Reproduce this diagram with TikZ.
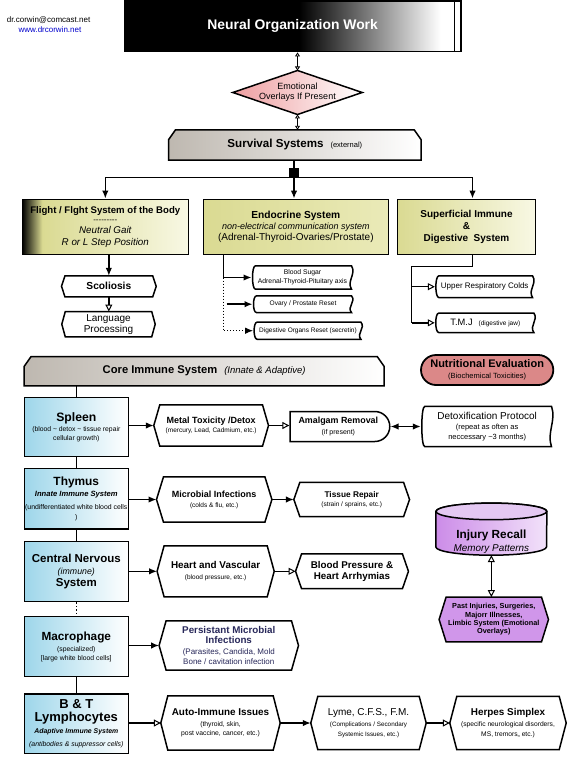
\documentclass[tikz,border=0pt]{standalone}
\usepackage{fontspec}
\setmainfont{Liberation Sans}
\usetikzlibrary{shapes.misc, arrows.meta, calc, backgrounds, positioning}

\definecolor{boxgrey}{RGB}{190,184,176}
\definecolor{boxyellow}{RGB}{218,218,146}
\definecolor{endoright}{RGB}{234,234,184}
\definecolor{paleyellow}{RGB}{248,248,228}
\definecolor{boxblue}{RGB}{158,214,234}
\definecolor{boxpink}{RGB}{238,158,160}
\definecolor{nutripink}{RGB}{219,136,136}
\definecolor{boxpurple}{RGB}{204,140,232}
\definecolor{lightpurple}{RGB}{242,226,250}
\definecolor{lidpurple}{RGB}{228,200,242}
\definecolor{hexpurple}{RGB}{208,150,234}
\definecolor{linkblue}{RGB}{0,0,204}
\definecolor{navytext}{RGB}{40,40,90}

\pgfdeclarehorizontalshading{titleshade}{100bp}{color(0bp)=(black); color(51bp)=(black); color(72bp)=(white); color(100bp)=(white)}
\pgfdeclarehorizontalshading{flightshade}{100bp}{color(0bp)=(black); color(25bp)=(black); color(31bp)=(boxyellow); color(75bp)=(paleyellow); color(100bp)=(paleyellow)}

\newcommand{\txtsize}[2]{\fontsize{#1}{#2}\selectfont}
\newcommand{\boldln}[2]{{\fontsize{#1}{#1}\selectfont\bfseries #2}}
\newcommand{\plainln}[2]{{\fontsize{#1}{#1}\selectfont #2}}
\newcommand{\italln}[2]{{\fontsize{#1}{#1}\selectfont\itshape #2}}
\newcommand{\bitln}[2]{{\fontsize{#1}{#1}\selectfont\bfseries\itshape #2}}

\tikzset{
  boxline/.style={draw=black, line width=1.5pt},
  slot/.style={inner sep=0pt, align=center},
  organbox/.style={boxline, left color=boxblue, right color=white, minimum width=104pt, inner sep=0pt, align=center},
  yellowbox/.style={boxline, minimum height=55pt, inner sep=0pt, align=center},
  link/.style={line width=1.5pt},
  fillarrow/.style={line width=1.5pt, -{Latex[length=8pt,width=6.5pt]}},
  openarrow/.style={line width=1.5pt, -{Triangle[fill=white,length=7pt,width=7pt,line width=1pt]}},
  bothfill/.style={line width=1.5pt, {Latex[length=8pt,width=6.5pt]}-{Latex[length=8pt,width=6.5pt]}},
  bothopen/.style={line width=1.5pt, {Triangle[fill=white,length=7pt,width=7pt,line width=1pt]}-{Triangle[fill=white,length=7pt,width=7pt,line width=1pt]}},
  smallends/.style={line width=1.5pt, {Triangle[open,length=4pt,width=5pt,line width=0.8pt]}-{Triangle[open,length=4pt,width=5pt,line width=0.8pt]}}
}

\begin{document}
\begin{tikzpicture}[x=1pt, y=-1pt]
  \useasboundingbox (0,0) rectangle (569,757);

  % Header
  \node[font=\txtsize{8}{9}] (email) at (48.6,20) {dr.corwin@comcast.net};
  \node[font=\txtsize{8}{9}, text=linkblue] (web) at (50,29.3) {www.drcorwin.net};
  \node[boxline, shading=titleshade, text=white, font=\txtsize{13.9}{16}\bfseries, minimum width=336.3pt, minimum height=50.7pt, inner sep=0pt] (title) at (292.65,26.35) {Neural Organization Work};
  \draw[line width=1pt] ([xshift=-7pt]title.north east) -- ([xshift=-7pt]title.south east);
  \node[slot, minimum width=129pt, minimum height=43.6pt, font=\txtsize{9}{10}] (emotion) at (297.5,92.5) {Emotional\\Overlays If Present};

  % Survival systems
  \node[slot, minimum width=252.3pt, minimum height=30pt] (survival) at (294.85,145) {\boldln{11.6}{Survival Systems}\hspace{7pt}\plainln{7.5}{(external)}};
  \node[fill=black, minimum size=9.5pt, inner sep=0pt] (junction) at (294,172.5) {};

  \node[yellowbox, shading=flightshade, minimum width=166pt, font=\txtsize{9.6}{10.7}] (flight) at (105.3,226.8)
    {\boldln{9.6}{Flight / Flght System of the Body}\\[-1.4pt] \plainln{8}{-{}-{}-{}-{}-{}-{}-{}-{}-}\\ \italln{9.8}{Neutral Gait}\\[1.3pt] \italln{9.8}{R or L Step Position}};
  \node[yellowbox, left color=boxyellow, right color=endoright, minimum width=185pt, font=\txtsize{9}{10.8}] (endocrine) at (295.8,226.8)
    {\boldln{10.2}{Endocrine System}\\ \italln{9}{non-electrical communication system}\\ \plainln{10}{(Adrenal-Thyroid-Ovaries/Prostate)}};
  \node[yellowbox, left color=boxyellow, right color=paleyellow, minimum width=138.4pt, font=\txtsize{10}{11.7}] (superficial) at (466.5,226.8)
    {\boldln{10}{Superficial Immune}\\ \boldln{10}{\&}\\ \boldln{10}{Digestive~ System}};

  \node[slot, minimum width=94.3pt, minimum height=20.7pt] (scoliosis) at (108.85,286.35) {\boldln{10.2}{Scoliosis}};
  \node[slot, minimum width=93pt, minimum height=25pt, font=\txtsize{10}{11}] (language) at (108.5,324.2) {Language\\Processing};

  \node[slot, minimum width=101.6pt, minimum height=23pt, font=\txtsize{6.8}{9}] (bloodsugar) at (302.5,277.5) {Blood Sugar\\Adrenal-Thyroid-Pituitary axis};
  \node[slot, minimum width=100.6pt, minimum height=16.3pt, font=\txtsize{6.6}{8}] (ovary) at (303,304.2) {Ovary / Prostate Reset};
  \node[slot, minimum width=109.4pt, minimum height=16.7pt, font=\txtsize{6.5}{8}] (digestive) at (308,330.7) {Digestive Organs Reset (secretin)};
  \node[slot, minimum width=99.3pt, minimum height=21.3pt, font=\txtsize{8}{9}] (upper) at (484.7,286.7) {Upper Respiratory Colds};
  \node[slot, minimum width=100.7pt, minimum height=19pt] (tmj) at (485.3,322.8) {\plainln{9.3}{T.M.J}\hspace{6pt}\plainln{6.5}{(digestive jaw)}};

  % Core immune system
  \node[slot, minimum width=359.7pt, minimum height=29pt] (core) at (204.15,371.2) {\boldln{11.2}{Core Immune System}\hspace{7pt}\italln{9.5}{(Innate \& Adaptive)}};
  \node[rounded rectangle, draw, line width=1.8pt, fill=nutripink, minimum width=132.3pt, minimum height=30pt, inner sep=0pt, align=center, font=\txtsize{7.5}{10.5}] (nutrition) at (487.15,370)
    {\boldln{11}{Nutritional Evaluation}\\ \plainln{7.5}{(Biochemical Toxicities)}};

  \node[organbox, minimum height=59.4pt, font=\txtsize{6.8}{8.7}] (spleen) at (76.3,427)
    {\boldln{12.2}{Spleen}\\[2pt] \plainln{6.8}{(blood \textasciitilde{} detox \textasciitilde{} tissue repair}\\ \plainln{6.8}{cellular growth)}};
  \node[organbox, minimum height=60.7pt, font=\txtsize{6.9}{10.5}] (thymus) at (76.3,498.65)
    {\boldln{11.9}{Thymus}\\[1pt] \bitln{7.6}{Innate Immune System}\\[2pt] \plainln{6.9}{(undifferentiated white blood cells}\\ \plainln{6.9}{)}};
  \node[organbox, minimum height=60pt, font=\txtsize{8.8}{12}] (cns) at (76.3,571.7)
    {\boldln{11.5}{Central Nervous}\\ \italln{8.8}{(immune)}\\ \boldln{11.5}{System}};
  \node[organbox, minimum height=60pt, font=\txtsize{6.8}{8.5}] (macro) at (76.3,646.7)
    {\boldln{11.8}{Macrophage}\\[3pt] \plainln{6.8}{(specialized)}\\ \plainln{6.8}{[large white blood cells]}};
  \node[organbox, minimum height=59.3pt, font=\txtsize{7}{12.4}] (bt) at (76.3,723.7)
    {\boldln{13}{B \& T}\\ \boldln{13}{Lymphocytes}\\ \bitln{6.9}{Adaptive Immune System}\\ \italln{6.9}{(antibodies \& suppressor cells)}};

  % Conditions
  \node[slot, minimum width=114.3pt, minimum height=41pt, font=\txtsize{6.5}{9.5}] (metal) at (211.15,425.5) {\boldln{9}{Metal Toxicity /Detox}\\ \plainln{6.5}{(mercury, Lead, Cadmium, etc.)}};
  \node[rounded rectangle, rounded rectangle left arc=none, boxline, fill=white, minimum width=99.7pt, minimum height=30pt, inner sep=0pt, align=center, font=\txtsize{7}{10.5}] (amalgam) at (338.35,426.5)
    {\boldln{8.9}{Amalgam Removal}\\ \plainln{7}{(if present)}};
  \node[slot, minimum width=132.3pt, minimum height=40pt, font=\txtsize{7.5}{9.4}] (detox) at (487.15,426.5)
    {\plainln{10}{Detoxification Protocol}\\[1pt] \plainln{7.5}{(repeat as often as}\\ \plainln{7.5}{neccessary \textasciitilde 3 months)}};
  \node[slot, minimum width=115pt, minimum height=45pt, font=\txtsize{6.5}{10}] (microbial) at (214.2,499.5) {\boldln{9}{Microbial Infections}\\ \plainln{6.5}{(colds \& flu, etc.)}};
  \node[slot, minimum width=115.3pt, minimum height=34pt, font=\txtsize{6.5}{9.5}] (tissue) at (351.7,499.5) {\boldln{8.3}{Tissue Repair}\\ \plainln{6.5}{(strain / sprains, etc.)}};
  \node[slot, minimum width=116.7pt, minimum height=50.7pt, font=\txtsize{6.5}{11.3}] (heart) at (215.65,571.3) {\boldln{9.9}{Heart and Vascular}\\ \plainln{6.5}{(blood pressure, etc.)}};
  \node[slot, minimum width=112.5pt, minimum height=34.3pt, font=\txtsize{9.8}{11}] (bp) at (352,571.3) {\boldln{9.8}{Blood Pressure \&}\\ \boldln{9.8}{Heart Arrhymias}};
  \node[slot, minimum width=139pt, minimum height=49pt, text=navytext, font=\txtsize{8}{10.2}] (persist) at (228.8,645.5)
    {\boldln{9.8}{Persistant Microbial}\\ \boldln{9.8}{Infections}\\ \plainln{8}{(Parasites, Candida, Mold}\\ \plainln{8}{Bone / cavitation infection}};
  \node[slot, minimum width=119pt, minimum height=54pt, font=\txtsize{6.8}{9.5}] (auto) at (220.5,723)
    {\boldln{9.9}{Auto-Immune Issues}\\[1.5pt] \plainln{6.8}{(thyroid, skin,}\\ \plainln{6.8}{post vaccine, cancer, etc.)}};
  \node[slot, minimum width=115pt, minimum height=53pt, font=\txtsize{6.3}{9.5}] (lyme) at (368.5,723)
    {\plainln{10}{Lyme, C.F.S., F.M.}\\[1.5pt] \plainln{6.3}{(Complications / Secondary}\\ \plainln{6.3}{Systemic Issues, etc.)}};
  \node[slot, minimum width=116pt, minimum height=53pt, font=\txtsize{6.7}{9.5}] (herpes) at (508,723)
    {\boldln{9.9}{Herpes Simplex}\\[1.5pt] \plainln{6.7}{(specific neurological disorders,}\\ \plainln{6.7}{MS, tremors,, etc.)}};

  % Injury recall
  \node[slot, minimum width=110.7pt, minimum height=51.7pt, text height=47.3pt, text depth=2.5pt, font=\txtsize{9.9}{12.6}] (injury) at (491.35,529.15)
    {\boldln{11.8}{Injury Recall}\\ \italln{9.9}{Memory Patterns}};
  \node[slot, minimum width=109pt, minimum height=44.4pt, font=\txtsize{7.3}{8.3}] (past) at (493.8,619.5)
    {\boldln{7.3}{Past Injuries, Surgeries,}\\ \boldln{7.3}{Majorr Illnesses,}\\ \boldln{7.3}{Limbic System (Emotional}\\ \boldln{7.3}{Overlays)}};

  % Connectors - top
  \draw[smallends] (title.south -| emotion.north) -- (emotion.north);
  \draw[smallends] (emotion.south) -- (emotion.south |- survival.north);
  \draw[link] (survival.south -| junction.north) -- (junction.north);
  \draw[fillarrow] (junction.south) -| (flight.north);
  \draw[fillarrow] (junction.south) -- (junction.south |- endocrine.north);
  \draw[fillarrow] (junction.south) -| ([xshift=6pt]superficial.north);
  \draw[fillarrow] (flight.south -| scoliosis.north) -- (scoliosis.north);
  \draw[openarrow] (scoliosis.south) -- (scoliosis.south |- language.north);

  \coordinate (endodrop) at ([xshift=21pt]endocrine.south west);
  \coordinate (ovarytail) at (226.7,304.2);
  \draw[fillarrow] (endodrop) |- (bloodsugar.west);
  \draw[fillarrow] (ovarytail) -- (ovary.west);
  \draw[dotted, line width=1pt, -{Latex[length=8pt,width=6.5pt]}] (endodrop |- bloodsugar.west) |- (digestive.west);

  \coordinate (supdrop) at ([xshift=6pt]superficial.south);
  \coordinate (supbend) at (411.7,266.7);
  \draw[link] (supdrop) |- (supbend) -- (supbend |- tmj.west);
  \draw[openarrow] (supbend |- upper.west) -- (upper.west);
  \draw[openarrow] (supbend |- tmj.west) -- (tmj.west);

  % Connectors - core column
  \draw[link] (core.south -| spleen.north) -- (spleen.north);
  \draw[link] (spleen) -- (thymus);
  \draw[link] (thymus) -- (cns);
  \draw[link, dotted] (cns) -- (macro);
  \draw[link] (macro) -- (bt);

  \draw[fillarrow] (spleen.east |- metal.west) -- (metal.west);
  \draw[openarrow] (metal.east) -- (metal.east -| amalgam.west);
  \draw[bothfill] (amalgam.east) -- (amalgam.east -| detox.west);
  \draw[fillarrow] (thymus.east |- microbial.west) -- (microbial.west);
  \draw[fillarrow] (microbial.east) -- (microbial.east -| tissue.west);
  \draw[fillarrow] (cns.east |- heart.west) -- (heart.west);
  \draw[openarrow] (heart.east) -- (heart.east -| bp.west);
  \draw[fillarrow] (macro.east |- persist.west) -- (persist.west);
  \draw[openarrow] (bt.east |- auto.west) -- (auto.west);
  \draw[fillarrow] (auto.east) -- (auto.east -| lyme.west);
  \draw[openarrow] (lyme.east) -- (lyme.east -| herpes.west);
  \draw[bothopen] (injury.south) -- (injury.south |- past.north);

  % Frames behind the texts
  \begin{scope}[on background layer]
    \draw[boxline, left color=boxpink, right color=white] (emotion.west) -- (emotion.north) -- (emotion.east) -- (emotion.south) -- cycle;
    \foreach \n in {survival, core}
      \draw[boxline, left color=boxgrey, right color=white] (\n.south west) -- ([yshift=-10pt]\n.north west) -- ([xshift=7pt]\n.north west) -- ([xshift=-7pt]\n.north east) -- ([yshift=-10pt]\n.north east) -- (\n.south east) -- cycle;
    \foreach \n/\d in {scoliosis/3.5, language/3.5, metal/6, microbial/7, tissue/6, heart/7, bp/6, persist/7, auto/7, lyme/7, herpes/7}
      \draw[boxline, fill=white] (\n.west) -- ([xshift=\d]\n.north west) -- ([xshift=-\d]\n.north east) -- (\n.east) -- ([xshift=-\d]\n.south east) -- ([xshift=\d]\n.south west) -- cycle;
    \draw[boxline, fill=hexpurple] (past.west) -- ([xshift=7]past.north west) -- ([xshift=-7]past.north east) -- (past.east) -- ([xshift=-7]past.south east) -- ([xshift=7]past.south west) -- cycle;
    \foreach \n in {bloodsugar, ovary, digestive, upper, tmj, detox}
      \draw[boxline, fill=white] ([xshift=4pt]\n.north west) -- ([xshift=-2pt]\n.north east)
        .. controls ($(\n.north east)!0.35!(\n.south east)+(3,0)$) and ($(\n.north east)!0.65!(\n.south east)+(-7,0)$) .. ([xshift=-2pt]\n.south east)
        -- ([xshift=4pt]\n.south west) .. controls (\n.south west) and (\n.north west) .. ([xshift=4pt]\n.north west) -- cycle;
    % cylinder
    \path[boxline, left color=boxpurple, right color=lightpurple]
      ([yshift=-8.3pt]injury.north west) -- ([yshift=8.3pt]injury.south west)
      arc[start angle=180, end angle=360, x radius=55.35pt, y radius=8.3pt]
      -- ([yshift=-8.3pt]injury.north east)
      arc[start angle=0, end angle=180, x radius=55.35pt, y radius=8.3pt] -- cycle;
    \draw[boxline, fill=lidpurple] ([yshift=-8.3pt]injury.north) ellipse [x radius=55.35pt, y radius=8.3pt];
  \end{scope}
\end{tikzpicture}
\end{document}
